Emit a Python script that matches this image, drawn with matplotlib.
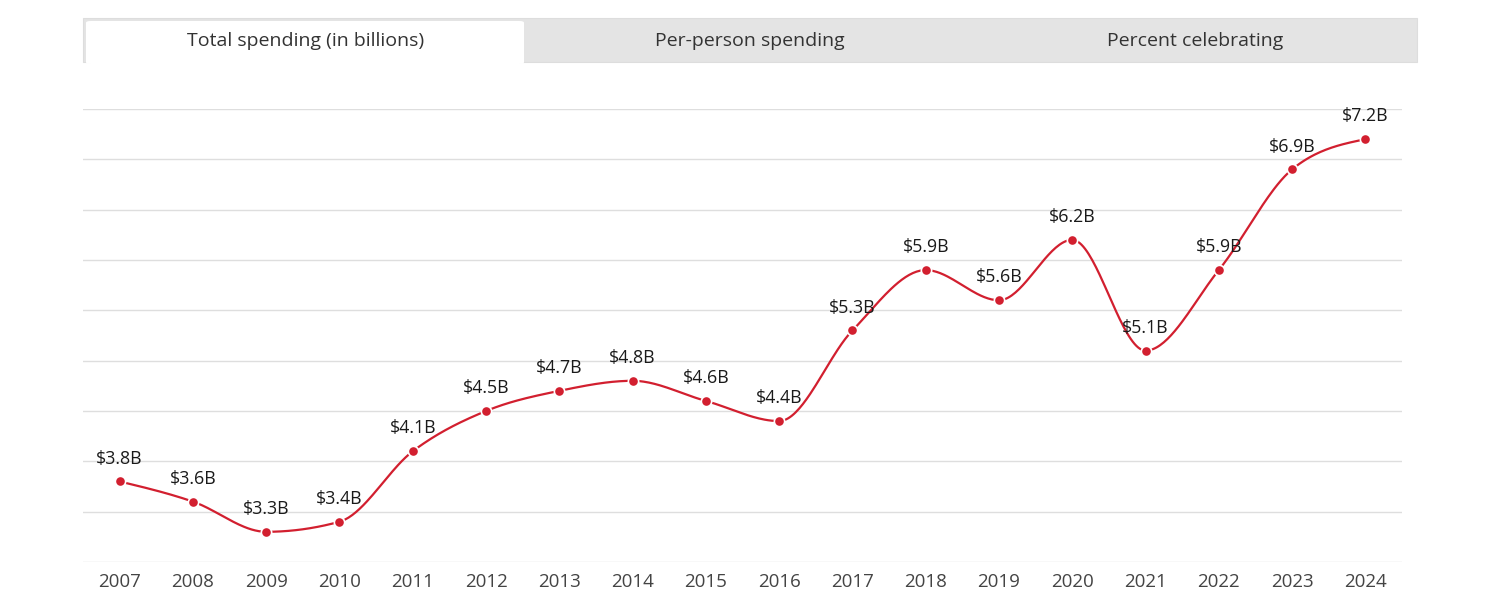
import matplotlib
matplotlib.use("Agg")
import matplotlib.pyplot as plt
from matplotlib.patches import Rectangle, FancyBboxPatch
import numpy as np

# Data
years = [2007, 2008, 2009, 2010, 2011, 2012, 2013, 2014, 2015,
         2016, 2017, 2018, 2019, 2020, 2021, 2022, 2023, 2024]
spending = [3.8, 3.6, 3.3, 3.4, 4.1, 4.5, 4.7, 4.8, 4.6,
            4.4, 5.3, 5.9, 5.6, 6.2, 5.1, 5.9, 6.9, 7.2]
tab_labels = ["Total spending (in billions)", "Per-person spending", "Percent celebrating"]
y_grid = [3.0, 3.5, 4.0, 4.5, 5.0, 5.5, 6.0, 6.5, 7.0, 7.5]

RED = "#d21f2f"
W, H = 1500, 602

plt.rcParams["font.family"] = ["Open Sans", "DejaVu Sans"]


def monotone_curve(x, y, n=40):
    """Monotone cubic (d3 curveMonotoneX style) through the points."""
    x = np.asarray(x, float)
    y = np.asarray(y, float)
    h = np.diff(x)
    s = np.diff(y) / h
    t = np.zeros_like(y)
    for i in range(1, len(y) - 1):
        p = (s[i - 1] * h[i] + s[i] * h[i - 1]) / (h[i - 1] + h[i])
        t[i] = (np.sign(s[i - 1]) + np.sign(s[i])) * min(abs(s[i - 1]), abs(s[i]), 0.5 * abs(p))
    t[0] = (3 * s[0] - t[1]) / 2
    t[-1] = (3 * s[-1] - t[-2]) / 2
    xs, ys = [], []
    for i in range(len(h)):
        u = np.linspace(0, 1, n, endpoint=(i == len(h) - 1))
        h00 = 2 * u**3 - 3 * u**2 + 1
        h10 = u**3 - 2 * u**2 + u
        h01 = -2 * u**3 + 3 * u**2
        h11 = u**3 - u**2
        xs.append(x[i] + u * h[i])
        ys.append(h00 * y[i] + h10 * h[i] * t[i] + h01 * y[i + 1] + h11 * h[i] * t[i + 1])
    return np.concatenate(xs), np.concatenate(ys)


fig = plt.figure(figsize=(W / 100, H / 100), dpi=100)


def fx(px):
    return px / W


def fy(py):
    return 1 - py / H


# tab bar
fig.patches.append(Rectangle((fx(83), fy(62)), fx(1417) - fx(83), fy(18) - fy(62),
                             transform=fig.transFigure, facecolor="#e4e4e4",
                             edgecolor="#dddddd", linewidth=0.8))
fig.patches.append(FancyBboxPatch((fx(86), fy(64)), fx(524) - fx(86), fy(21) - fy(64),
                                  boxstyle="round,pad=0,rounding_size=0.003",
                                  transform=fig.transFigure, facecolor="white",
                                  edgecolor="none"))
tab_w = (1417 - 83) / 3
for i, lab in enumerate(tab_labels):
    fig.text(fx(83 + tab_w * (i + 0.5)), fy(41), lab, ha="center", va="center",
             fontsize=14, color="#333333")

ax = fig.add_axes([fx(83), fy(562), fx(1402) - fx(83), fy(109) - fy(562)])
xi = np.arange(len(years))
ax.set_xlim(-0.5, len(years) - 0.5)
ax.set_ylim(3.0, 7.5)

for g in y_grid:
    ax.axhline(g, color="#dedede", linewidth=1, zorder=0)

cx, cy = monotone_curve(xi, spending)
ax.plot(cx, cy, color=RED, linewidth=1.6, zorder=2, clip_on=False)
ax.scatter(xi, spending, s=55, color=RED, edgecolor="white", linewidth=1.2, zorder=3,
           clip_on=False)

for x, v in zip(xi, spending):
    ax.annotate(f"${v:.1f}B", (x, v), xytext=(0, 10), textcoords="offset points",
                ha="center", va="bottom", fontsize=12.8, color="#1a1a1a")

ax.set_xticks(xi)
ax.set_xticklabels([str(y) for y in years], fontsize=13.5, color="#444444")
ax.set_yticks([])
ax.tick_params(axis="x", length=0, pad=8)
for sp in ax.spines.values():
    sp.set_visible(False)

fig.savefig("out.png", dpi=100)
